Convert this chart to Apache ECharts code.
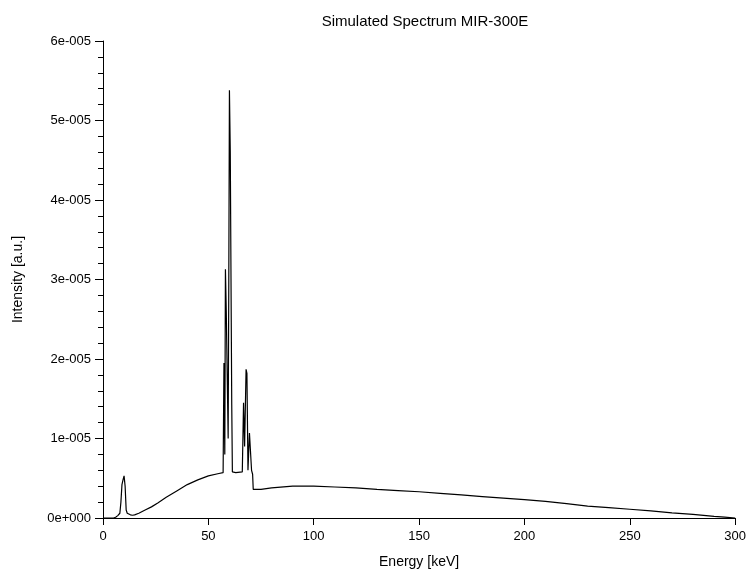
<!DOCTYPE html>
<html>
<head>
<meta charset="utf-8">
<script src="https://cdn.jsdelivr.net/npm/echarts@6/dist/echarts.min.js"></script>
<style>
html,body{margin:0;padding:0;background:#fff;}
#chart{width:749px;height:574px;}
</style>
</head>
<body>
<div id="chart"></div>
<script>
// Energy in keV
const energy = [0, 5, 6, 7, 8, 8.5, 9, 9.5, 10, 10.5, 11, 11.5, 12, 13, 14, 15, 17, 20, 23, 26, 30, 35, 40, 45, 50, 55, 57,
  57.4, 57.8, 58.1, 58.5, 59.0, 59.4, 59.7, 60.0, 60.4, 60.7, 61.1, 61.4, 63, 66.1,
  66.7, 67.2, 67.9, 68.3, 68.8, 69.5, 70.0, 70.5, 71.0, 71.3,
  75, 80, 90, 100, 110, 120, 130, 140, 150, 160, 170, 180, 190, 200, 210, 220, 230, 240, 250, 260, 270, 280, 290, 295, 300];
// Intensity in units of 1e-5 (a.u.)
const intensity = [0, 0, 0.01, 0.03, 0.06, 0.2, 0.42, 0.48, 0.53, 0.4, 0.1, 0.06, 0.05, 0.04, 0.035, 0.04, 0.06, 0.1, 0.14, 0.19, 0.26, 0.34, 0.42, 0.48, 0.53, 0.56, 0.57,
  1.95, 0.8, 3.13, 2.6, 2.6, 1.0, 3.0, 5.38, 4.6, 4.6, 1.42, 0.58, 0.57, 0.58,
  1.45, 0.9, 1.87, 1.82, 0.6, 1.07, 1.07, 0.6, 0.55, 0.36,
  0.36, 0.38, 0.40, 0.40, 0.39, 0.38, 0.36, 0.345, 0.33, 0.31, 0.29, 0.27, 0.25, 0.23, 0.21, 0.18, 0.15, 0.13, 0.11, 0.09, 0.065, 0.045, 0.02, 0.01, 0];
const xTicks = [0, 50, 100, 150, 200, 250, 300];
const yTickLabels = ['0e+000', '1e-005', '2e-005', '3e-005', '4e-005', '5e-005', '6e-005'];
const scale = 1e-5;

const data = energy.map((e, i) => [e, intensity[i] * scale]);
const font = 'Liberation Sans, Arial, sans-serif';
const chart = echarts.init(document.getElementById('chart'));
chart.setOption({
  animation: false,
  backgroundColor: '#fff',
  title: {
    text: 'Simulated Spectrum MIR-300E',
    left: 420, top: 9, textAlign: 'center',
    textStyle: {fontFamily: font, fontSize: 15, fontWeight: 'normal', color: '#000'}
  },
  grid: {left: 103, right: 11, top: 41, bottom: 56, containLabel: false},
  xAxis: {
    type: 'value', min: 0, max: 300, interval: 50,
    name: 'Energy [keV]', nameLocation: 'middle', nameGap: 37,
    nameTextStyle: {fontFamily: font, fontSize: 14, color: '#000'},
    axisLine: {show: true, onZero: false, lineStyle: {color: '#000', width: 1}},
    axisTick: {show: true, length: 7, inside: false, lineStyle: {color: '#000'}},
    axisLabel: {fontFamily: font, fontSize: 13, color: '#000', margin: 12,
      formatter: v => xTicks.includes(v) ? String(v) : ''},
    splitLine: {show: false}
  },
  yAxis: {
    type: 'value', min: 0, max: 6e-5, interval: 1e-5,
    name: 'Intensity [a.u.]', nameLocation: 'middle', nameGap: 78,
    nameTextStyle: {fontFamily: font, fontSize: 14, color: '#000'},
    axisLine: {show: true, lineStyle: {color: '#000', width: 1}},
    axisTick: {show: true, length: 8, inside: false, lineStyle: {color: '#000'}},
    minorTick: {show: true, splitNumber: 5, length: 5, lineStyle: {color: '#000'}},
    axisLabel: {fontFamily: font, fontSize: 13, color: '#000', margin: 12,
      formatter: v => yTickLabels[Math.round(v / scale)]},
    splitLine: {show: false},
    minorSplitLine: {show: false}
  },
  series: [{
    type: 'line', data: data, showSymbol: false, symbol: 'none',
    lineStyle: {color: '#000', width: 1.2}, silent: true
  }]
});
</script>
</body>
</html>
